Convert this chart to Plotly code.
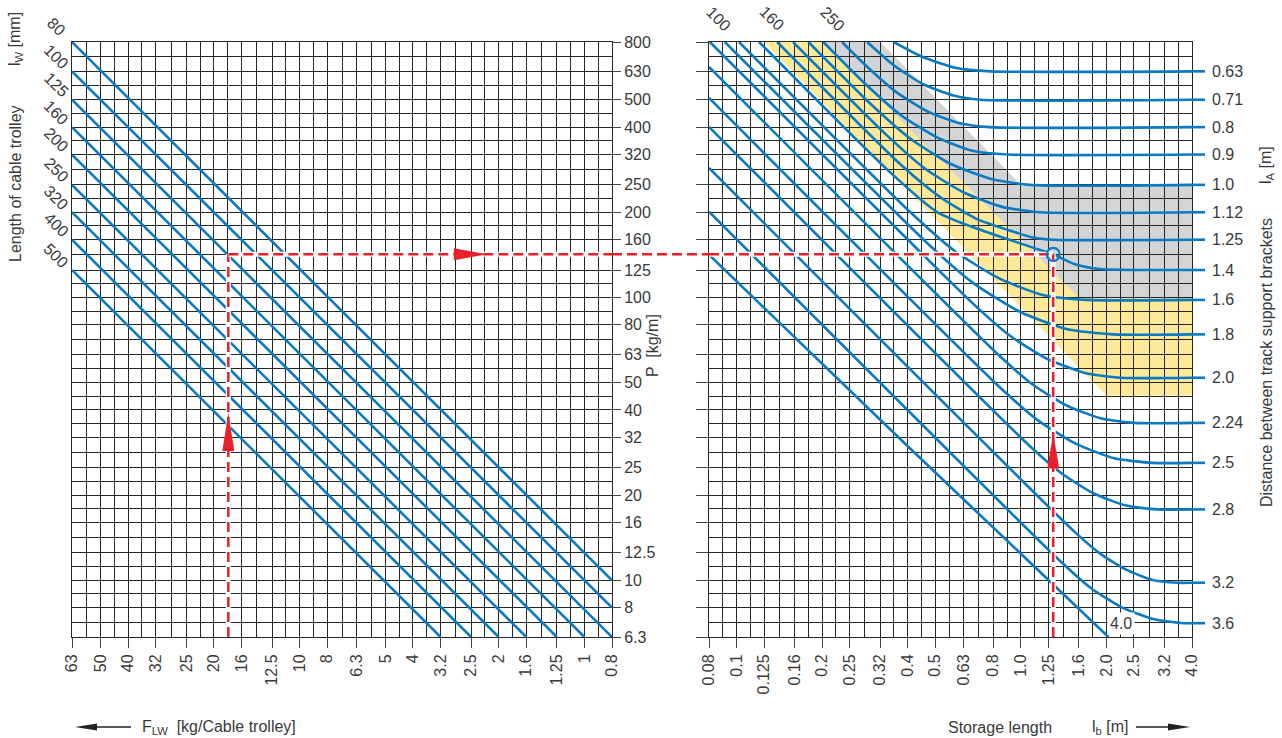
import numpy as np
import plotly.graph_objects as go

W, H = 1282, 738
FONT = "Liberation Sans, Arial, sans-serif"
TXT = "#3a3a3a"
GRID = "#262626"
BLUE = "#0a7bc2"
RED = "#e8202a"

# --- axis scales (R10 preferred numbers) ---
f_ticks = [63, 50, 40, 32, 25, 20, 16, 12.5, 10, 8, 6.3, 5, 4, 3.2, 2.5, 2, 1.6, 1.25, 1, 0.8]
f_labels = ["63", "50", "40", "32", "25", "20", "16", "12.5", "10", "8", "6.3", "5", "4",
            "3.2", "2.5", "2", "1.6", "1.25", "1", "0.8"]
p_ticks = [800, 630, 500, 400, 320, 250, 200, 160, 125, 100, 80, 63, 50, 40, 32, 25, 20,
           16, 12.5, 10, 8, 6.3]
p_labels = ["800", "630", "500", "400", "320", "250", "200", "160", "125", "100", "80", "63",
            "50", "40", "32", "25", "20", "16", "12.5", "10", "8", "6.3"]
lb_ticks = [0.08, 0.1, 0.125, 0.16, 0.2, 0.25, 0.32, 0.4, 0.5, 0.63, 0.8, 1.0, 1.25, 1.6,
            2.0, 2.5, 3.2, 4.0]
lb_labels = ["0.08", "0.1", "0.125", "0.16", "0.2", "0.25", "0.32", "0.4", "0.5", "0.63",
             "0.8", "1.0", "1.25", "1.6", "2.0", "2.5", "3.2", "4.0"]

# --- left diagram: length of cable trolley l_W ---
lw_mm = [80, 100, 125, 160, 200, 250, 320, 400, 500]
lw_f_start = [63, 63, 63, 63, 63, 63, 63, 63, 63]
lw_p_start = [800, 630, 500, 400, 320, 250, 200, 160, 125]
lw_f_end = [0.8, 0.8, 0.8, 1.0, 1.25, 1.6, 2.0, 2.5, 3.2]
lw_p_end = [10, 8, 6.3, 6.3, 6.3, 6.3, 6.3, 6.3, 6.3]

# --- right diagram: distance between track support brackets l_A ---
la_labels = ["0.63", "0.71", "0.8", "0.9", "1.0", "1.12", "1.25", "1.4", "1.6", "1.8",
             "2.0", "2.24", "2.5", "2.8", "3.2", "3.6", "4.0"]
la_flat_p = [630, 500, 400, 320, 250, 200, 160, 125, 98, 74, 52, 36, 26, 17.8, 9.8, 7.05]

curve_lb = [
    [0.357, 0.452, 0.593, 0.782, 4.0],
    [0.288, 0.362, 0.456, 0.574, 0.723, 4.0],
    [0.235, 0.283, 0.364, 0.469, 0.604, 0.778, 4.0],
    [0.202, 0.285, 0.380, 0.507, 0.676, 0.902, 4.0],
    [0.179, 0.297, 0.409, 0.565, 0.780, 1.077, 4.0],
    [0.158, 0.338, 0.461, 0.630, 0.859, 1.173, 4.0],
    [0.139, 0.382, 0.515, 0.695, 0.938, 1.1, 1.3, 4.0],
    [0.120, 0.344, 0.509, 0.68, 0.846, 1.104, 1.3, 1.55, 1.9, 4.0],
    [0.102, 0.409, 0.585, 0.836, 1.194, 1.706, 4.0],
    [0.091, 0.461, 0.675, 0.987, 1.443, 2.109, 4.0],
    [0.0806, 0.679, 0.916, 1.236, 1.667, 2.25, 4.0],
    [0.08, 0.832, 1.097, 1.446, 1.906, 2.512, 4.0],
    [0.08, 0.838, 1.143, 1.56, 2.129, 2.905, 4.0],
    [0.08, 1.072, 1.389, 1.799, 2.331, 3.021, 4.0],
    [0.08, 1.549, 1.906, 2.345, 2.885, 3.549, 4.0],
    [0.08, 1.387, 1.777, 2.275, 2.914, 3.734, 4.0],
    [0.08, 0.401, 2.033],
]
curve_p = [
    [800, 708, 647, 630, 630],
    [800, 655, 566, 519, 500, 500],
    [800, 665, 533, 455, 414, 400, 400],
    [800, 566, 440, 368, 330, 320, 320],
    [800, 482, 364, 297, 263, 250, 250],
    [800, 374, 285, 235, 209, 200, 200],
    [800, 292, 228, 190, 171, 163, 160, 160],
    [800, 279, 200, 177, 164, 150, 142, 131, 126, 125],
    [800, 200, 146, 117, 102, 98, 98],
    [800, 158, 113, 89.2, 77.4, 74, 74],
    [800, 95.1, 73.2, 60.7, 54.2, 52, 52],
    [653, 62.8, 49.3, 41.5, 37.4, 36, 36],
    [507, 48.4, 36.9, 30.4, 27.0, 26, 26],
    [401, 29.9, 23.9, 20.3, 18.4, 17.8, 17.8],
    [287, 14.8, 12.4, 10.9, 10.05, 9.8, 9.8],
    [201, 11.6, 9.33, 8.0, 7.30, 7.05, 7.05],
    [141.6, 29.7, 6.3],
]

# shaded areas
yellow_lb = [0.125, 0.32, 1.0, 4.0, 4.0, 2.0]
yellow_p = [800, 800, 250, 250, 45, 45]
gray_lb = [0.2, 0.32, 1.0, 4.0, 4.0, 1.6]
gray_p = [800, 800, 250, 250, 100, 100]

# worked example
ex_f, ex_p, ex_lb = 17.8, 142, 1.3
arrow_up_left_p, arrow_right_f, arrow_up_right_p = 39, 2.2, 33

top_labels = ["100", "160", "250"]


def minor(vals):
    return [float(np.sqrt(a * b)) for a, b in zip(vals[:-1], vals[1:])]


def poly(xs, ys):
    return "M " + " L ".join(f"{x},{y}" for x, y in zip(xs, ys)) + " Z"


xl = [72 / W, 612 / W]
xr = [709 / W, 1192 / W]
yd = [1 - 637 / H, 1 - 42 / H]

fig = go.Figure()

for fs, ps, fe, pe in zip(lw_f_start, lw_p_start, lw_f_end, lw_p_end):
    fig.add_trace(go.Scatter(x=[fs, fe], y=[ps, pe], mode="lines", xaxis="x", yaxis="y",
                             line=dict(color=BLUE, width=2.6), hoverinfo="skip"))

for xs, ys in zip(curve_lb, curve_p):
    fig.add_trace(go.Scatter(x=xs, y=ys, mode="lines", xaxis="x2", yaxis="y2",
                             line=dict(color=BLUE, width=2.6, shape="spline", smoothing=0.6),
                             hoverinfo="skip"))

# red guide lines (white halo under red dashes)
red_paths = [
    ("x", "y", [ex_f, ex_f], [6.3, ex_p]),
    ("x", "y", [ex_f, 0.8], [ex_p, ex_p]),
    ("x2", "y2", [0.08, ex_lb], [ex_p, ex_p]),
    ("x2", "y2", [ex_lb, ex_lb], [6.3, ex_p]),
]
for xa, ya, xs, ys in red_paths:
    fig.add_trace(go.Scatter(x=xs, y=ys, mode="lines", xaxis=xa, yaxis=ya,
                             line=dict(color="white", width=5), hoverinfo="skip"))
    fig.add_trace(go.Scatter(x=xs, y=ys, mode="lines", xaxis=xa, yaxis=ya,
                             line=dict(color=RED, width=2.5, dash="10px,5px"), hoverinfo="skip"))

fig.add_trace(go.Scatter(x=[ex_lb], y=[ex_p], mode="markers", xaxis="x2", yaxis="y2",
                         marker=dict(symbol="circle-open", size=13, color=BLUE,
                                     line=dict(width=2.2)), hoverinfo="skip"))

shapes = [
    dict(type="path", xref="x2", yref="y2", path=poly(yellow_lb, yellow_p),
         fillcolor="#fde998", line=dict(width=0), layer="below"),
    dict(type="path", xref="x2", yref="y2", path=poly(gray_lb, gray_p),
         fillcolor="#d3d4d6", line=dict(width=0), layer="below"),
    dict(type="line", xref="paper", yref="y", x0=xl[1], x1=xr[0], y0=ex_p, y1=ex_p,
         line=dict(color=RED, width=2.5, dash="10px,5px")),
    dict(type="path", xref="x", yref="y", xsizemode="pixel", ysizemode="pixel",
         xanchor=ex_f, yanchor=arrow_up_left_p, path="M0,0 L-6,-38 L6,-38 Z",
         fillcolor=RED, line=dict(width=0)),
    dict(type="path", xref="x", yref="y", xsizemode="pixel", ysizemode="pixel",
         xanchor=arrow_right_f, yanchor=ex_p, path="M0,0 L-33,6 L-33,-6 Z",
         fillcolor=RED, line=dict(width=0)),
    dict(type="path", xref="x2", yref="y2", xsizemode="pixel", ysizemode="pixel",
         xanchor=ex_lb, yanchor=arrow_up_right_p, path="M0,0 L-6,-35 L6,-35 Z",
         fillcolor=RED, line=dict(width=0)),
    # caption arrows
    dict(type="path", xref="paper", yref="paper", xsizemode="pixel", ysizemode="pixel",
         xanchor=75 / W, yanchor=1 - 727 / H, path="M0,0 L22,3.5 L22,-3.5 Z",
         fillcolor="#222", line=dict(width=0)),
    dict(type="line", xref="paper", yref="paper", x0=90 / W, x1=131 / W,
         y0=1 - 727 / H, y1=1 - 727 / H, line=dict(color="#222", width=1.3)),
    dict(type="path", xref="paper", yref="paper", xsizemode="pixel", ysizemode="pixel",
         xanchor=1190 / W, yanchor=1 - 727 / H, path="M0,0 L-22,3.5 L-22,-3.5 Z",
         fillcolor="#222", line=dict(width=0)),
    dict(type="line", xref="paper", yref="paper", x0=1136 / W, x1=1175 / W,
         y0=1 - 727 / H, y1=1 - 727 / H, line=dict(color="#222", width=1.3)),
]
for p in la_flat_p:
    shapes.append(dict(type="line", xref="x2 domain", yref="y2", x0=1, x1=1 + 13 / 483,
                       y0=p, y1=p, line=dict(color=BLUE, width=2.6)))

tf = dict(family=FONT, size=16, color=TXT)
C = dict(xanchor="center", yanchor="middle", showarrow=False, font=tf)
ann = []
for lab, p in zip(lw_mm, lw_p_start):
    ann.append(dict(C, text=str(lab), xref="paper", yref="y", x=56 / W, y=np.log10(p),
                    yshift=15, textangle=45))
for lab, x in zip(top_labels, [718, 772, 832]):
    ann.append(dict(C, text=lab, xref="paper", yref="paper", x=x / W, y=1 - 19 / H,
                    textangle=45))
for lab, p in zip(la_labels[:-1], la_flat_p):
    ann.append(dict(C, text=lab, xref="x2 domain", yref="y2", x=1.038, y=np.log10(p),
                    xanchor="left"))
ann.append(dict(C, text=la_labels[-1], xref="x2 domain", yref="y2 domain",
                x=(1121 - 709) / 483, y=(637 - 623) / 595, bgcolor="white", borderpad=2))
ann += [
    dict(C, text="l<sub>W</sub> [mm]", xref="paper", yref="paper", x=15 / W, y=1 - 39 / H,
         textangle=-90),
    dict(C, text="Length of cable trolley", xref="paper", yref="paper", x=15 / W,
         y=1 - 184 / H, textangle=-90),
    dict(C, text="P  [kg/m]", xref="paper", yref="paper", x=652 / W, y=1 - 346 / H,
         textangle=-90),
    dict(C, text="l<sub>A</sub> [m]", xref="paper", yref="paper", x=1266 / W, y=1 - 165 / H,
         textangle=-90),
    dict(C, text="Distance between track support brackets", xref="paper", yref="paper",
         x=1266 / W, y=1 - 363 / H, textangle=-90),
    dict(C, text="F<sub>LW</sub>  [kg/Cable trolley]", xref="paper", yref="paper",
         x=140 / W, y=1 - 727 / H, xanchor="left"),
    dict(C, text="Storage length", xref="paper", yref="paper", x=1000 / W, y=1 - 727 / H),
    dict(C, text="l<sub>b</sub> [m]", xref="paper", yref="paper", x=1090 / W, y=1 - 727 / H,
         xanchor="left"),
]

axis_common = dict(type="log", showgrid=True, gridcolor=GRID, gridwidth=1, zeroline=False,
                   showline=True, linecolor=GRID, linewidth=1, mirror=True, automargin=False,
                   ticks="outside", tickcolor="#444", tickwidth=1, tickmode="array",
                   tickfont=tf)

fig.update_layout(
    width=W, height=H, margin=dict(l=0, r=0, t=0, b=0, autoexpand=False),
    plot_bgcolor="white", paper_bgcolor="white", showlegend=False,
    xaxis=dict(axis_common, domain=xl, anchor="y", range=[np.log10(63), np.log10(0.8)],
               tickvals=f_ticks, ticktext=f_labels, tickangle=-90, ticklen=10,
               minor=dict(tickvals=minor(f_ticks), showgrid=True, gridcolor=GRID, ticks="")),
    yaxis=dict(axis_common, domain=yd, anchor="x", side="right",
               range=[np.log10(6.3), np.log10(800)], tickvals=p_ticks, ticktext=p_labels,
               ticklen=8,
               minor=dict(tickvals=minor(p_ticks), showgrid=True, gridcolor=GRID, ticks="")),
    xaxis2=dict(axis_common, domain=xr, anchor="y2", range=[np.log10(0.08), np.log10(4.0)],
                tickvals=lb_ticks, ticktext=lb_labels, tickangle=-90, ticklen=10,
                minor=dict(tickvals=minor(lb_ticks), showgrid=True, gridcolor=GRID, ticks="")),
    yaxis2=dict(axis_common, domain=yd, anchor="x2", side="left",
                range=[np.log10(6.3), np.log10(800)], tickvals=p_ticks, showticklabels=False,
                ticklen=12,
                minor=dict(tickvals=minor(p_ticks), showgrid=True, gridcolor=GRID, ticks="")),
    shapes=shapes,
    annotations=ann,
)

fig.write_html("out.html", config={"displayModeBar": False},
               post_script="document.body.style.margin='0px';")
